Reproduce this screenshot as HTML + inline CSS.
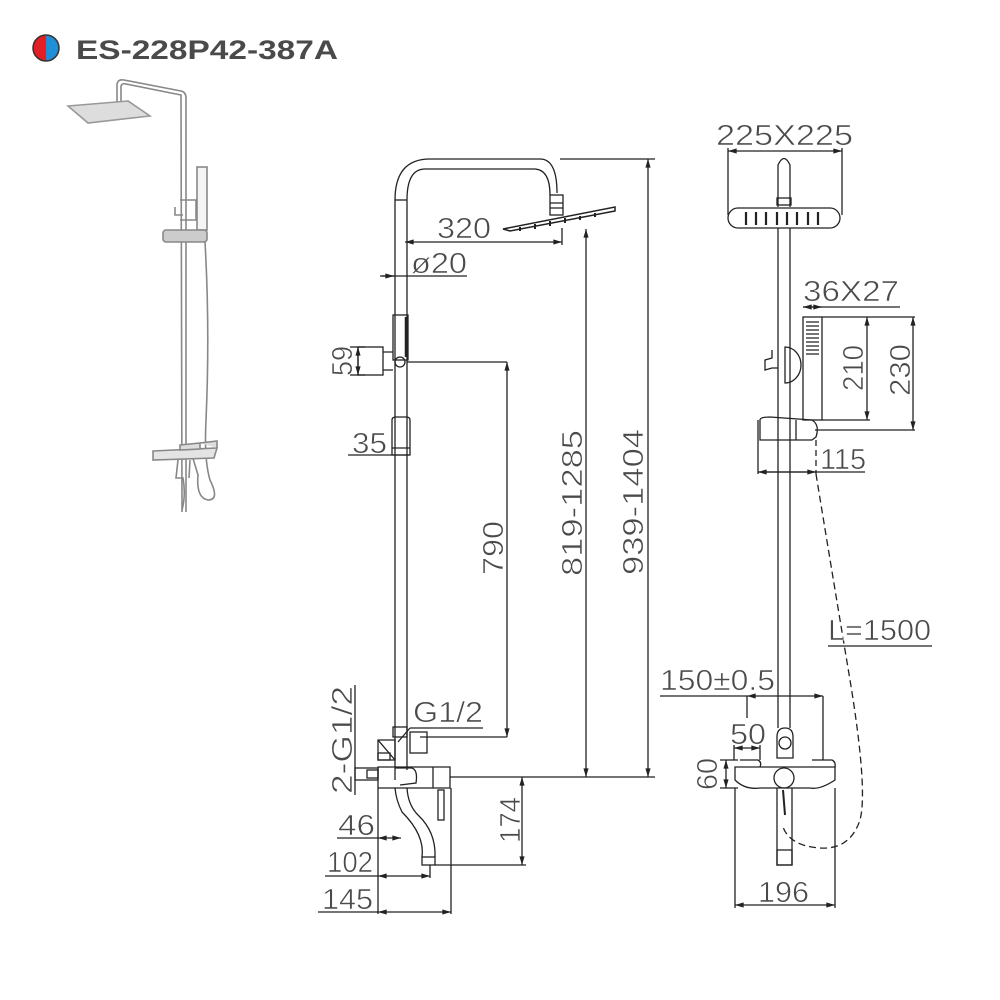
<!DOCTYPE html>
<html><head><meta charset="utf-8"><style>
html,body{margin:0;padding:0;background:#fff;}
svg{display:block;}
text{font-family:"Liberation Sans",sans-serif;fill:#4a4a4a;}
.d{font-size:29px;}
.d text{stroke:#fff;stroke-width:0.6;paint-order:normal;}
</style></head><body>
<svg width="1000" height="1000" viewBox="0 0 1000 1000" xmlns="http://www.w3.org/2000/svg">
<defs>
<marker id="a" viewBox="0 0 10 6" refX="10" refY="3" markerWidth="7" markerHeight="4" orient="auto-start-reverse"><path d="M0,0 L10,3 L0,6z" fill="#222"/></marker>
</defs>
<!-- title -->
<path d="M46,35 A13,13 0 0 0 46,61 Z" fill="#e21f26"/>
<path d="M46,35 A13,13 0 0 1 46,61 Z" fill="#1f8fd8"/>
<circle cx="46" cy="48" r="13" fill="none" stroke="#333" stroke-width="1.5"/>
<text x="76" y="59" style="font-size:27px;font-weight:bold;fill:#4a4a4a" textLength="262" lengthAdjust="spacingAndGlyphs">ES-228P42-387A</text>

<!-- photo -->
<g fill="none" stroke="#888" stroke-width="1.6">
<path d="M117,102 L117,84 Q118,79 124,80 L181,91 Q186,92 186,98 L186,512"/>
<path d="M121,102 L121,86 Q122,83 126,84 L181,95 L182,512"/>
<path d="M68,106 L128,101 L150,116 L88,123 Z" fill="#ddd" stroke="#999"/>
<rect x="197" y="167" width="10" height="63" fill="#f4f4f4"/>
<rect x="163" y="230" width="44" height="12" rx="3" fill="#ccc"/>
<path d="M175,207 L175,215 L183,215 M180,200 L196,200 L196,220 L180,220"/>
<path d="M205,242 Q210,330 206,420 Q204,460 210,480 Q220,500 208,500 Q196,498 198,475 L192,455"/>
<path d="M153,451 L217,448 L214,458 L153,460 Z" fill="#e4e4e4"/>
<path d="M180,445 L200,443 L200,449 L180,450 Z M200,443 L217,441 L217,448" fill="#ddd"/>
<path d="M178,460 L176,478 L183,478 Q186,495 182,510"/>
<path d="M190,460 L189,478"/>
</g>

<g fill="none" stroke="#222" stroke-width="1.3">
<!-- SIDE VIEW -->
<path d="M395,780 L395,200 Q395,159 430,159 L540,159 Q557,159 557,193"/>
<path d="M407,770 L407,200 Q407,169 425,169 L535,169 Q550,170 550,195"/>
<path d="M395,200 L407,200"/>
<rect x="550" y="195" width="13" height="20"/>
<path d="M550,203 L563,203 M550,208 L563,208"/>
<path d="M503,229 L615,207 L615,211 L510,231 Z" stroke-width="1.5"/>
<path d="M520,227 v4 M535,224 v5 M550,221 v5 M565,218 v5 M580,216 v4 M595,213 v4" stroke-width="2"/>
<line x1="405" y1="242" x2="562" y2="242" marker-start="url(#a)" marker-end="url(#a)"/>
<line x1="562" y1="228" x2="562" y2="245"/>
<line x1="380" y1="276" x2="467" y2="276"/>
<line x1="382" y1="276" x2="394" y2="276" marker-end="url(#a)"/>
<rect x="393" y="315" width="15" height="45"/>
<path d="M406,317 v40" stroke-width="2.5"/>
<rect x="358" y="347" width="25" height="28"/>
<path d="M383,352 L393,352 M383,370 L393,370"/>
<circle cx="400" cy="362" r="5"/>
<line x1="350" y1="347" x2="365" y2="347"/><line x1="350" y1="375" x2="365" y2="375"/>
<line x1="358" y1="347" x2="358" y2="375" marker-start="url(#a)" marker-end="url(#a)"/>
<path d="M392,420 Q392,417 396,417 L406,417 Q410,417 410,420 L410,448 L392,448 Z M392,448 L392,455 L410,455 L410,448"/>
<line x1="348" y1="455" x2="410" y2="455"/>
<line x1="407" y1="362" x2="507" y2="362"/>
<line x1="507" y1="362" x2="507" y2="737" marker-start="url(#a)" marker-end="url(#a)"/>
<line x1="586" y1="229" x2="586" y2="777" marker-start="url(#a)" marker-end="url(#a)"/>
<line x1="560" y1="159" x2="655" y2="159"/>
<line x1="648" y1="159" x2="648" y2="777" marker-start="url(#a)" marker-end="url(#a)"/>
<line x1="450" y1="777" x2="655" y2="777"/>
<rect x="393" y="727" width="14" height="10"/>
<rect x="410" y="732" width="17" height="21"/>
<path d="M378,740 L395,740 L395,760 L378,760 Z M378,740 L395,760"/>
<rect x="378" y="753" width="12" height="7"/>
<path d="M378,767 L450,767 L450,788 L378,788 Z M433,767 L433,788"/>
<path d="M395,768 L412,768 Q418,770 416,783 L400,785"/>
<rect x="355" y="768" width="23" height="12"/>
<rect x="367" y="770" width="11" height="8"/>
<path d="M395,788 Q396,800 402,812 Q425,835 422,857 M407,788 Q408,805 418,815 Q436,832 435,857"/>
<rect x="422" y="857" width="13" height="8"/>
<rect x="438" y="790" width="6" height="30"/>
<line x1="410" y1="728" x2="483" y2="728"/>
<line x1="410" y1="728" x2="398" y2="742"/>
<line x1="420" y1="737" x2="507" y2="737"/>
<line x1="355" y1="685" x2="355" y2="795"/>
<line x1="378" y1="788" x2="378" y2="914"/>
<line x1="451" y1="788" x2="451" y2="914"/>
<line x1="337" y1="838" x2="378" y2="838"/>
<line x1="378" y1="838" x2="401" y2="838" marker-start="url(#a)" marker-end="url(#a)"/>
<line x1="325" y1="876" x2="378" y2="876"/>
<line x1="378" y1="876" x2="430" y2="876" marker-start="url(#a)" marker-end="url(#a)"/>
<line x1="430" y1="865" x2="430" y2="878"/>
<line x1="318" y1="912" x2="378" y2="912"/>
<line x1="378" y1="912" x2="451" y2="912" marker-start="url(#a)" marker-end="url(#a)"/>
<line x1="435" y1="865" x2="526" y2="865"/>
<line x1="522" y1="777" x2="522" y2="865" marker-start="url(#a)" marker-end="url(#a)"/>

<!-- FRONT VIEW -->
<line x1="728" y1="151" x2="842" y2="151" marker-start="url(#a)" marker-end="url(#a)"/>
<line x1="728" y1="148" x2="728" y2="215"/><line x1="842" y1="148" x2="842" y2="215"/>
<path d="M778,207 L778,165 Q784,152 790,165 L790,207"/>
<rect x="777" y="198" width="14" height="7"/>
<rect x="728" y="208" width="112" height="20" rx="10"/>
<path d="M746,212 v13 M756,212 v13 M766,212 v13 M777,212 v13 M787,212 v13 M797,212 v13 M808,212 v13 M818,212 v13" stroke-width="2.2"/>
<line x1="778" y1="228" x2="778" y2="728"/>
<line x1="790" y1="228" x2="790" y2="728"/>
<path d="M785,347 A16,18 0 1 1 785,383 Z"/>
<path d="M772,350 L772,358 L765,360 L765,370 L772,368 L778,368"/>
<line x1="803" y1="307" x2="900" y2="307"/>
<rect x="803" y="317" width="19" height="103"/>
<path d="M806,322 h13 M806,326 h13 M806,330 h13 M806,334 h13 M806,338 h13 M806,342 h13 M806,346 h13 M806,350 h13 M806,354 h13" stroke-width="1.2"/>
<line x1="803" y1="307" x2="822" y2="307" marker-start="url(#a)" marker-end="url(#a)"/>
<line x1="822" y1="317" x2="915" y2="317"/>
<line x1="822" y1="420" x2="870" y2="420"/>
<line x1="815" y1="430" x2="915" y2="430"/>
<line x1="867" y1="317" x2="867" y2="420" marker-start="url(#a)" marker-end="url(#a)"/>
<line x1="913" y1="317" x2="913" y2="430" marker-start="url(#a)" marker-end="url(#a)"/>
<path d="M760,420 Q760,417 770,417 L812,420 Q820,425 816,437 L812,440 L760,440 Z M796,420 L796,440"/>
<line x1="758" y1="420" x2="758" y2="474"/>
<line x1="758" y1="472" x2="865" y2="472"/>
<line x1="758" y1="472" x2="816" y2="472" marker-start="url(#a)" marker-end="url(#a)"/>
<line x1="816" y1="440" x2="816" y2="474" stroke-dasharray="6,4"/>
<path d="M816,474 Q830,560 850,680 Q868,790 860,820 Q850,850 820,848 Q790,846 783,827" stroke-dasharray="7,4"/>
<line x1="828" y1="646" x2="932" y2="646"/>
<line x1="660" y1="696" x2="747" y2="696"/>
<line x1="747" y1="696" x2="823" y2="696" marker-start="url(#a)" marker-end="url(#a)"/>
<line x1="747" y1="696" x2="747" y2="718"/>
<line x1="823" y1="696" x2="823" y2="760"/>
<line x1="734" y1="748" x2="760" y2="748" marker-start="url(#a)" marker-end="url(#a)"/>
<line x1="734" y1="745" x2="734" y2="760"/><line x1="760" y1="745" x2="760" y2="760"/>
<line x1="720" y1="760" x2="738" y2="760"/><line x1="720" y1="788" x2="738" y2="788"/>
<line x1="726" y1="760" x2="726" y2="788" marker-start="url(#a)" marker-end="url(#a)"/>
<path d="M777,737 Q777,728 785,728 Q793,728 793,737 L793,758 L777,758 Z"/>
<circle cx="785" cy="743" r="6"/>
<path d="M735,767 L835,767 L835,780 Q820,790 810,788 L760,788 Q745,790 735,780 Z"/>
<path d="M740,760 L758,760 Q762,762 760,767 M812,760 L832,760 Q836,762 835,767"/>
<circle cx="784" cy="778" r="10"/>
<path d="M777,788 L777,865 L792,865 L792,788"/>
<rect x="777" y="850" width="15" height="15"/>
<path d="M783,790 L785,815" stroke-width="2"/>
<line x1="735" y1="788" x2="735" y2="908"/><line x1="835" y1="788" x2="835" y2="908"/>
<line x1="735" y1="905" x2="835" y2="905" marker-start="url(#a)" marker-end="url(#a)"/>
</g>

<g class="d">
<text x="437" y="238" textLength="54" lengthAdjust="spacingAndGlyphs">320</text>
<text x="411" y="273" textLength="56" lengthAdjust="spacingAndGlyphs">ø20</text>
<text x="352" y="453" textLength="35" lengthAdjust="spacingAndGlyphs">35</text>
<text transform="translate(352,361) rotate(-90)" text-anchor="middle" textLength="30" lengthAdjust="spacingAndGlyphs">59</text>
<text transform="translate(503,548) rotate(-90)" text-anchor="middle" textLength="54" lengthAdjust="spacingAndGlyphs">790</text>
<text transform="translate(582,503) rotate(-90)" text-anchor="middle" textLength="146" lengthAdjust="spacingAndGlyphs">819-1285</text>
<text transform="translate(643,502) rotate(-90)" text-anchor="middle" textLength="146" lengthAdjust="spacingAndGlyphs">939-1404</text>
<text transform="translate(352,740) rotate(-90)" text-anchor="middle" textLength="108" lengthAdjust="spacingAndGlyphs">2-G1/2</text>
<text x="413" y="722" textLength="70" lengthAdjust="spacingAndGlyphs">G1/2</text>
<text x="338" y="835" textLength="37" lengthAdjust="spacingAndGlyphs">46</text>
<text x="327" y="872" textLength="46" lengthAdjust="spacingAndGlyphs">102</text>
<text x="322" y="909" textLength="51" lengthAdjust="spacingAndGlyphs">145</text>
<text transform="translate(520,820) rotate(-90)" text-anchor="middle" textLength="46" lengthAdjust="spacingAndGlyphs">174</text>
<text x="716" y="145" textLength="137" lengthAdjust="spacingAndGlyphs">225X225</text>
<text x="803" y="301" textLength="96" lengthAdjust="spacingAndGlyphs">36X27</text>
<text transform="translate(863,368) rotate(-90)" text-anchor="middle" textLength="46" lengthAdjust="spacingAndGlyphs">210</text>
<text transform="translate(910,370) rotate(-90)" text-anchor="middle" textLength="52" lengthAdjust="spacingAndGlyphs">230</text>
<text x="820" y="469" textLength="46" lengthAdjust="spacingAndGlyphs">115</text>
<text x="828" y="640" textLength="103" lengthAdjust="spacingAndGlyphs">L=1500</text>
<text x="660" y="690" textLength="115" lengthAdjust="spacingAndGlyphs">150±0.5</text>
<text x="730" y="744" textLength="36" lengthAdjust="spacingAndGlyphs">50</text>
<text transform="translate(717,774) rotate(-90)" text-anchor="middle" textLength="32" lengthAdjust="spacingAndGlyphs">60</text>
<text x="758" y="902" textLength="51" lengthAdjust="spacingAndGlyphs">196</text>
</g>
</svg>
</body></html>
